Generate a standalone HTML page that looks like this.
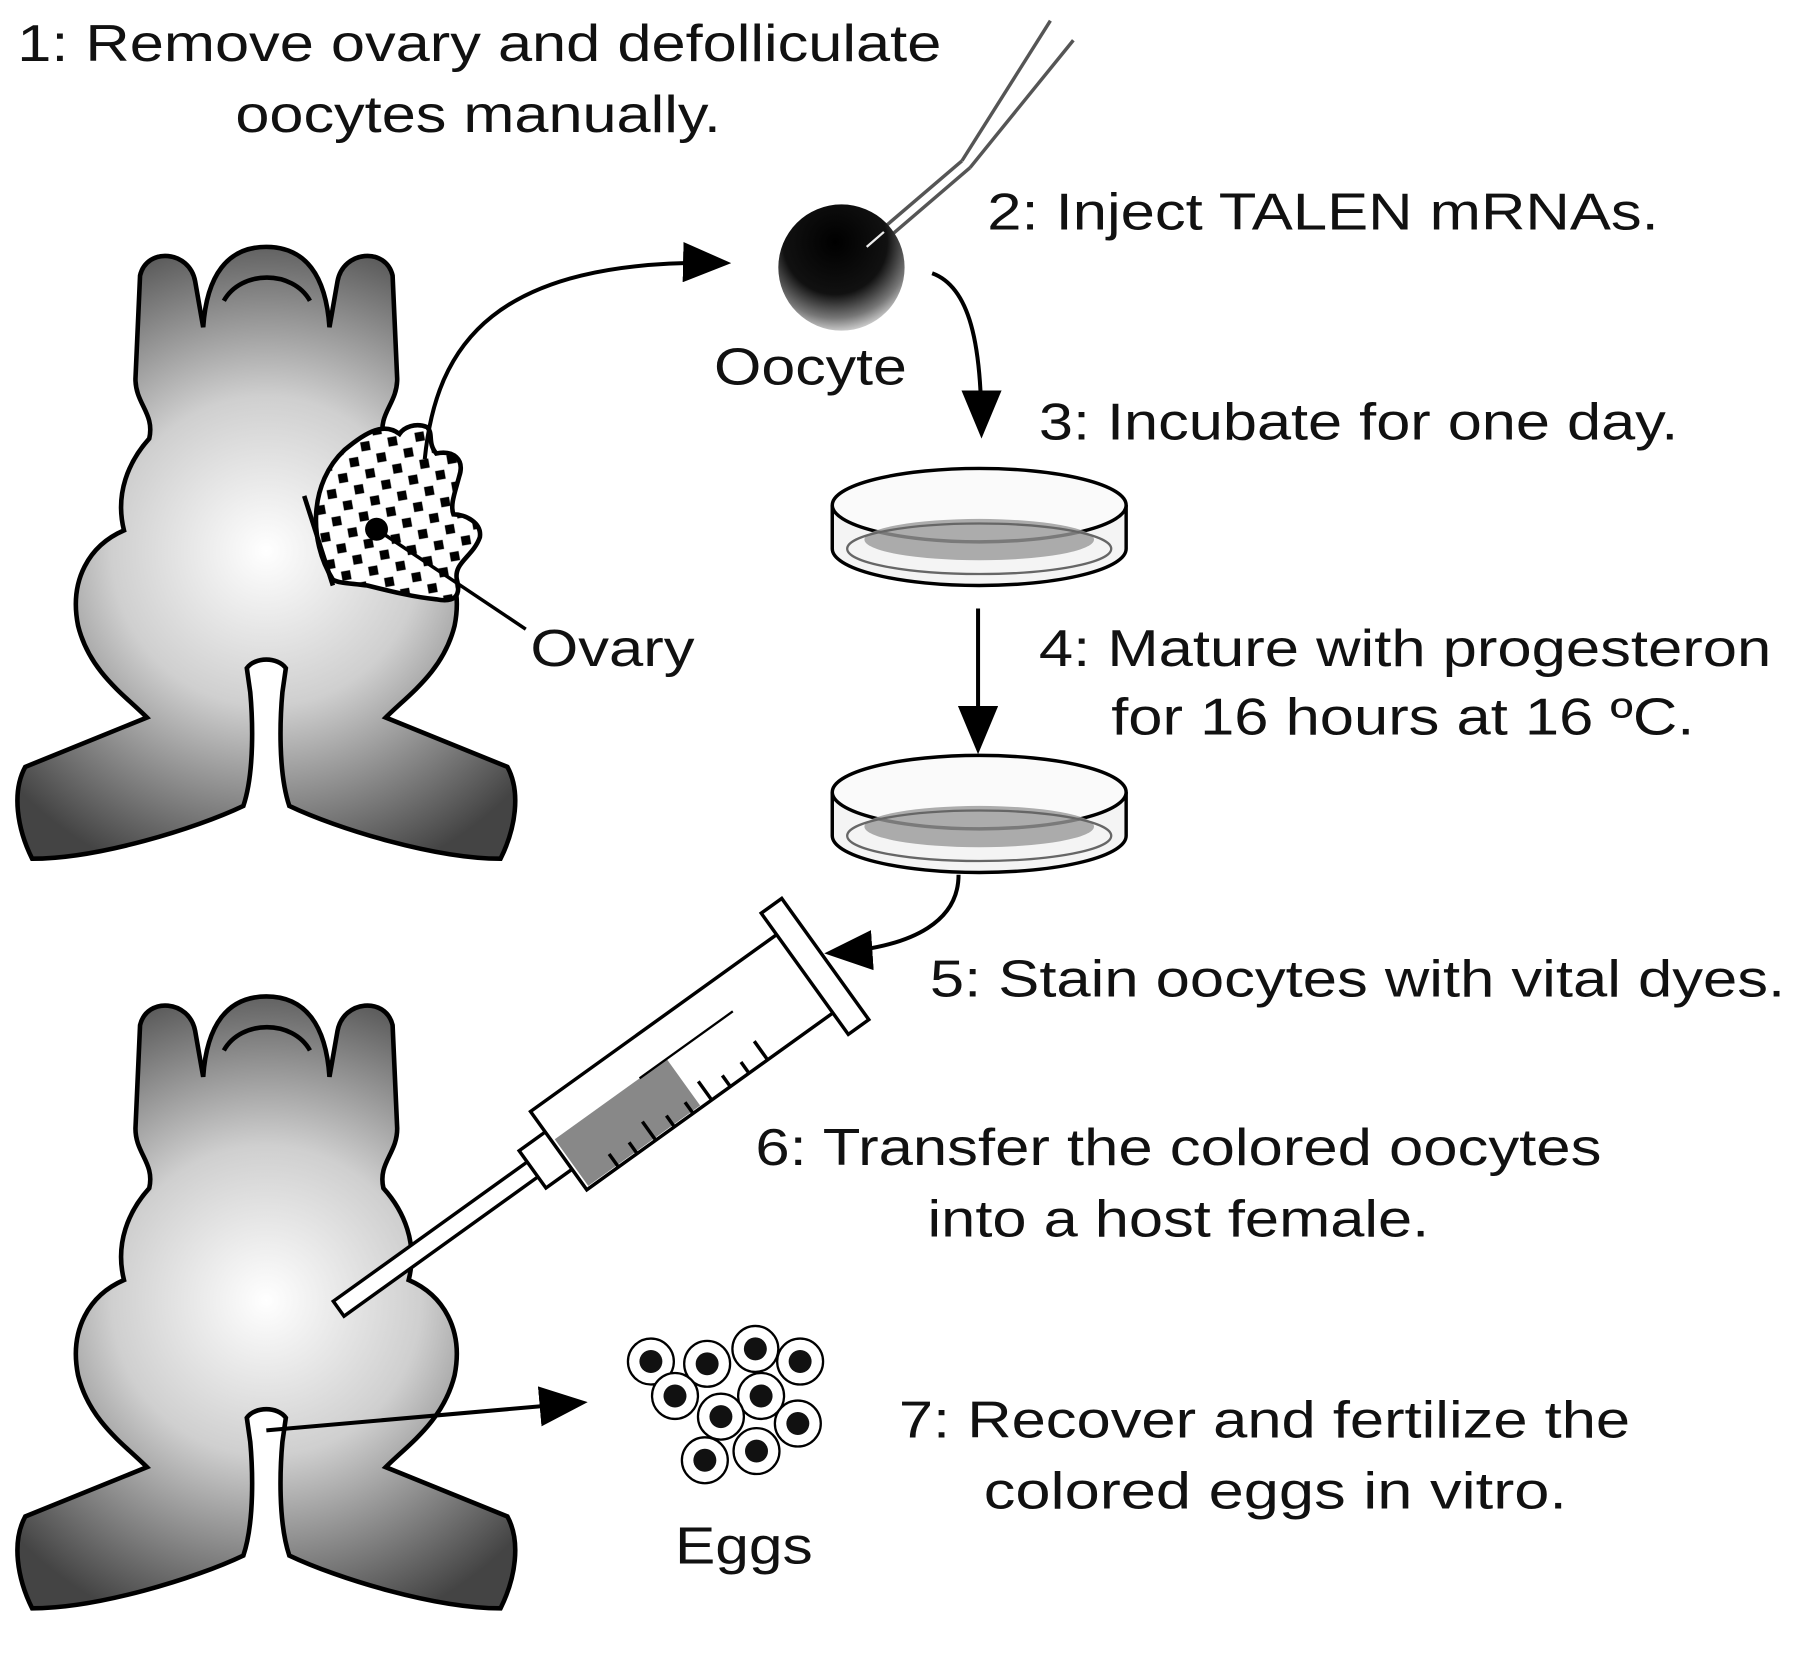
<!DOCTYPE html>
<html><head><meta charset="utf-8"><style>
html,body{margin:0;padding:0;background:#fff;}
svg{display:block;}
text{font-family:"Liberation Sans",Arial,sans-serif;font-size:45px;fill:#111;}
</style></head><body>
<svg width="1800" height="1655" viewBox="0 0 1568 1441.6" xmlns="http://www.w3.org/2000/svg">
<defs>
<radialGradient id="fg" cx="232" cy="480" r="300" gradientUnits="userSpaceOnUse">
<stop offset="0" stop-color="#ffffff"/><stop offset="0.45" stop-color="#cfcfcf"/><stop offset="0.8" stop-color="#777"/><stop offset="1" stop-color="#444"/>
</radialGradient>
<radialGradient id="oo" cx="0.45" cy="0.3" r="0.75">
<stop offset="0" stop-color="#000"/><stop offset="0.55" stop-color="#111"/><stop offset="0.8" stop-color="#777"/><stop offset="1" stop-color="#eee"/>
</radialGradient>
<pattern id="chk" width="24" height="24" patternUnits="userSpaceOnUse" patternTransform="rotate(-10)">
<rect width="24" height="24" fill="#fff"/><rect x="2" y="2" width="8" height="8" fill="#000"/><rect x="14" y="14" width="8" height="8" fill="#000"/>
</pattern>
<marker id="ah" markerWidth="12" markerHeight="10" refX="10" refY="5" orient="auto" markerUnits="strokeWidth">
<path d="M0,0 L12,5 L0,10 Z" fill="#000"/>
</marker>
<path id="frog" d="M232,215 C198,215 180,240 177,285 L170,245 C165,218 128,215 122,240 L118,330 C118,352 135,360 130,382 C112,402 100,430 108,462 C78,475 60,505 68,545 C78,585 108,605 128,625 L22,668 C10,690 15,722 28,748 C85,748 170,722 212,702 C222,672 220,625 218,603 L215,582 C222,572 242,572 249,582 L246,603 C244,625 242,672 252,702 C294,722 379,748 436,748 C449,722 454,690 442,668 L336,625 C356,605 386,585 396,545 C404,505 386,475 356,462 C364,430 352,402 334,382 C329,360 346,352 346,330 L342,240 C336,215 299,218 294,245 L287,285 C284,240 266,215 232,215 Z"/>
</defs>
<rect width="1568" height="1442" fill="#fff"/>

<!-- frog 1 -->
<use href="#frog" fill="url(#fg)" stroke="#000" stroke-width="4"/>
<path d="M195,262 C210,235 255,235 270,262" fill="none" stroke="#000" stroke-width="4"/>
<path d="M290,505 C268,470 270,420 300,392 C320,375 335,368 348,378 C352,372 362,368 372,372 C378,378 372,385 380,395 C395,392 405,400 400,415 C396,430 392,440 395,448 C405,448 420,455 418,468 C412,485 395,490 398,505 C402,520 395,525 380,522 C360,520 340,515 320,510 C305,508 295,508 290,505 Z" fill="url(#chk)" stroke="#000" stroke-width="4"/>
<line x1="265" y1="432" x2="290" y2="510" stroke="#000" stroke-width="4"/>
<circle cx="328" cy="461" r="10" fill="#000"/>
<line x1="328" y1="461" x2="458" y2="548" stroke="#000" stroke-width="3"/>
<text x="462" y="580" textLength="143" lengthAdjust="spacingAndGlyphs">Ovary</text>

<!-- frog 2 -->
<use href="#frog" transform="translate(0,653)" fill="url(#fg)" stroke="#000" stroke-width="4"/>
<path d="M195,915 C210,888 255,888 270,915" fill="none" stroke="#000" stroke-width="4"/>

<!-- oocyte & pipette -->
<line x1="762" y1="205" x2="838" y2="140" stroke="#555" stroke-width="3"/>
<line x1="768" y1="212" x2="845" y2="146" stroke="#555" stroke-width="3"/>
<line x1="838" y1="140" x2="915" y2="18" stroke="#555" stroke-width="3"/>
<line x1="845" y1="146" x2="935" y2="35" stroke="#555" stroke-width="3"/>
<circle cx="733" cy="233" r="55" fill="url(#oo)"/>
<line x1="755" y1="215" x2="770" y2="202" stroke="#eee" stroke-width="2"/>
<text x="622" y="335" textLength="168" lengthAdjust="spacingAndGlyphs">Oocyte</text>

<!-- arrows -->
<path d="M370,400 C380,300 430,225 630,229" fill="none" stroke="#000" stroke-width="3.5" marker-end="url(#ah)"/>
<path d="M812,238 C845,250 855,300 855,375" fill="none" stroke="#000" stroke-width="3.5" marker-end="url(#ah)"/>
<line x1="852" y1="530" x2="852" y2="650" stroke="#000" stroke-width="3.5" marker-end="url(#ah)"/>
<path d="M835,762 C835,800 800,825 725,830" fill="none" stroke="#000" stroke-width="3.5" marker-end="url(#ah)"/>
<line x1="232" y1="1246" x2="505" y2="1222" stroke="#000" stroke-width="3.5" marker-end="url(#ah)"/>

<!-- petri dishes -->
<g id="dish">
<path d="M725,440 L725,478 A128,32 0 0 0 981,478 L981,440" fill="#f4f4f4" stroke="#000" stroke-width="3"/>
<ellipse cx="853" cy="440" rx="128" ry="32" fill="#fafafa" stroke="#000" stroke-width="3"/>
<ellipse cx="853" cy="470" rx="100" ry="18" fill="#999" opacity="0.8"/>
<ellipse cx="853" cy="478" rx="115" ry="22" fill="none" stroke="#666" stroke-width="2"/>
</g>
<use href="#dish" transform="translate(0,250)"/>

<!-- syringe -->
<g transform="translate(295,1140) rotate(-35.7)">
<rect x="0" y="-8" width="210" height="16" fill="#fff" stroke="#000" stroke-width="3"/>
<rect x="208" y="-20" width="30" height="40" fill="#fff" stroke="#000" stroke-width="3"/>
<rect x="236" y="-42" width="268" height="84" fill="#fff" stroke="#000" stroke-width="3"/>
<rect x="239" y="-10" width="120" height="50" fill="#888"/>
<line x1="330" y1="-10" x2="430" y2="-10" stroke="#000" stroke-width="2"/>
<g stroke="#000" stroke-width="3">
<line x1="270" y1="42" x2="270" y2="28"/><line x1="290" y1="42" x2="290" y2="30"/><line x1="310" y1="42" x2="310" y2="22"/>
<line x1="330" y1="42" x2="330" y2="30"/><line x1="350" y1="42" x2="350" y2="30"/><line x1="370" y1="42" x2="370" y2="22"/>
<line x1="390" y1="42" x2="390" y2="30"/><line x1="410" y1="42" x2="410" y2="30"/><line x1="430" y1="42" x2="430" y2="22"/>
</g>
<rect x="500" y="-65" width="22" height="130" fill="#fff" stroke="#000" stroke-width="3"/>
</g>

<!-- eggs -->
<g stroke="#000" stroke-width="2" fill="#fff">
<circle cx="567" cy="1186" r="20"/><circle cx="616" cy="1188" r="20"/><circle cx="658" cy="1175" r="20"/><circle cx="697" cy="1186" r="20"/>
<circle cx="588" cy="1216" r="20"/><circle cx="663" cy="1216" r="20"/><circle cx="628" cy="1234" r="20"/><circle cx="695" cy="1240" r="20"/>
<circle cx="614" cy="1272" r="20"/><circle cx="659" cy="1264" r="20"/>
</g>
<g fill="#111">
<circle cx="567" cy="1186" r="10"/><circle cx="616" cy="1188" r="10"/><circle cx="658" cy="1175" r="10"/><circle cx="697" cy="1186" r="10"/>
<circle cx="588" cy="1216" r="10"/><circle cx="663" cy="1216" r="10"/><circle cx="628" cy="1234" r="10"/><circle cx="695" cy="1240" r="10"/>
<circle cx="614" cy="1272" r="10"/><circle cx="659" cy="1264" r="10"/>
</g>
<text x="588" y="1362" textLength="120" lengthAdjust="spacingAndGlyphs">Eggs</text>

<!-- labels -->
<text x="15" y="53" textLength="805" lengthAdjust="spacingAndGlyphs">1: Remove ovary and defolliculate</text>
<text x="205" y="115" textLength="423" lengthAdjust="spacingAndGlyphs">oocytes manually.</text>
<text x="860" y="200" textLength="585" lengthAdjust="spacingAndGlyphs">2: Inject TALEN mRNAs.</text>
<text x="905" y="383" textLength="557" lengthAdjust="spacingAndGlyphs">3: Incubate for one day.</text>
<text x="905" y="580" textLength="638" lengthAdjust="spacingAndGlyphs">4: Mature with progesteron</text>
<text x="968" y="640" textLength="508" lengthAdjust="spacingAndGlyphs">for 16 hours at 16 ºC.</text>
<text x="810" y="868" textLength="745" lengthAdjust="spacingAndGlyphs">5: Stain oocytes with vital dyes.</text>
<text x="658" y="1015" textLength="737" lengthAdjust="spacingAndGlyphs">6: Transfer the colored oocytes</text>
<text x="808" y="1077" textLength="437" lengthAdjust="spacingAndGlyphs">into a host female.</text>
<text x="783" y="1252" textLength="637" lengthAdjust="spacingAndGlyphs">7: Recover and fertilize the</text>
<text x="857" y="1314" textLength="508" lengthAdjust="spacingAndGlyphs">colored eggs in vitro.</text>
</svg>
</body></html>
